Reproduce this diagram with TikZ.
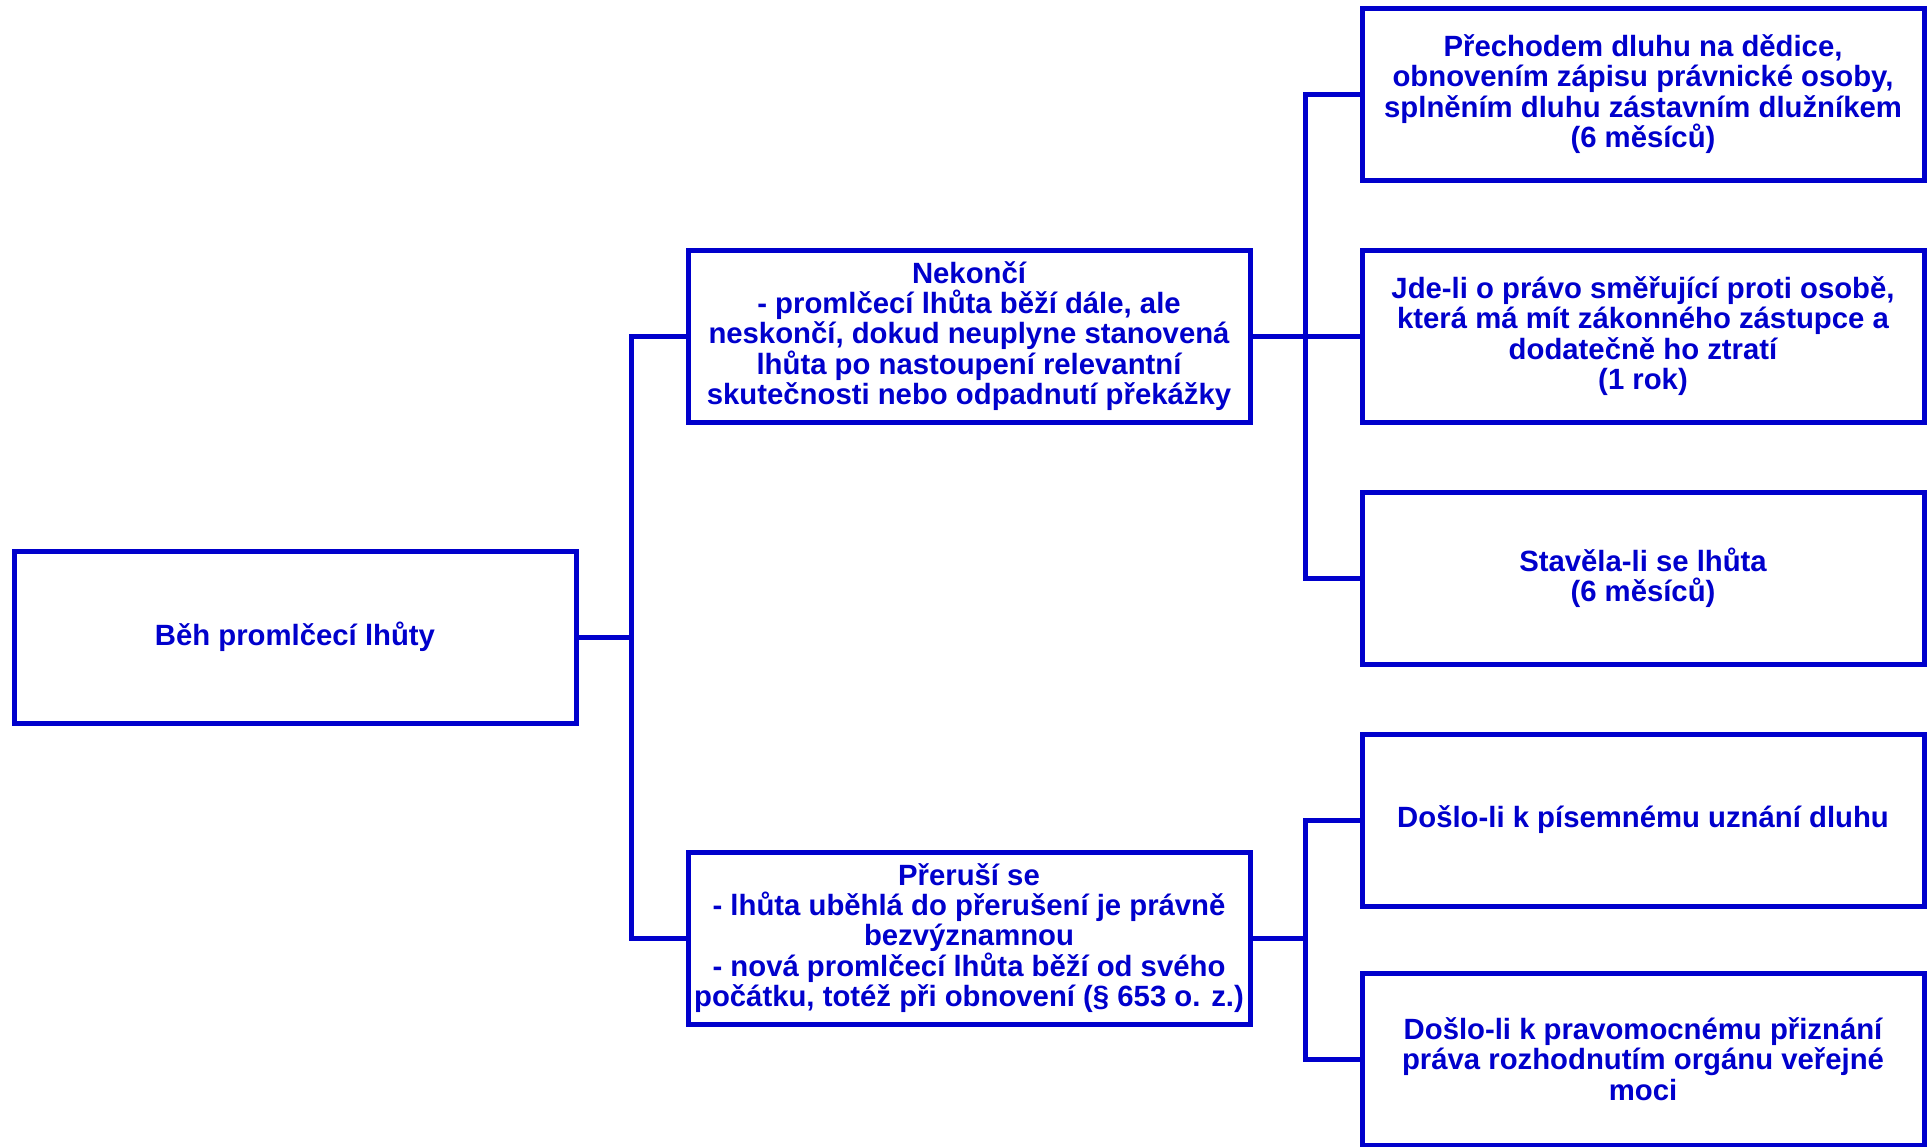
\documentclass[tikz,border=0pt]{standalone}
\usepackage{fontspec}
\setmainfont{Liberation Sans}
\definecolor{lhuta}{RGB}{0,0,204}
\tikzset{
  box/.style={draw=lhuta, line width=5pt, minimum width=562pt, minimum height=172pt,
    inner sep=0pt, align=center, text=lhuta, font=\fontsize{29.3}{30.3}\selectfont\bfseries},
  link/.style={draw=lhuta, line width=5pt}
}
\begin{document}
\begin{tikzpicture}[x=1pt,y=-1pt]
      \useasboundingbox (0,0) rectangle (1929,1146);

      \node[box] (beh) at (295,637) {Běh promlčecí lhůty};

      \node[box] (nekonci) at (969,336) {Nekončí\\ - promlčecí lhůta běží dále, ale\\ neskončí, dokud neuplyne stanovená\\ lhůta po nastoupení relevantní\\ skutečnosti nebo odpadnutí překážky};
      \node[box] (prerusi) at (969,938) {Přeruší se\\ - lhůta uběhlá do přerušení je právně\\ bezvýznamnou\\ - nová promlčecí lhůta běží od svého\\ počátku, totéž při obnovení (§ 653 o. z.)};

      \node[box] (dedice) at (1643,94) {Přechodem dluhu na dědice,\\ obnovením zápisu právnické osoby,\\ splněním dluhu zástavním dlužníkem\\ (6 měsíců)};
      \node[box] (zastupce) at (1643,336) {Jde-li o právo směřující proti osobě,\\ která má mít zákonného zástupce a\\ dodatečně ho ztratí\\ (1 rok)};
      \node[box] (stavela) at (1643,578) {Stavěla-li se lhůta\\ (6 měsíců)};
      \node[box] (uznani) at (1643,820) {Došlo-li k písemnému uznání dluhu};
      \node[box] (priznani) at (1643,1059) {Došlo-li k pravomocnému přiznání\\ práva rozhodnutím orgánu veřejné\\ moci};

      \coordinate (j1) at (631,637);
      \coordinate (j2) at (1305,336);
      \coordinate (j3) at (1305,938);

      \draw[link] (beh.east) -- (j1);
      \draw[link] (nekonci.west) -| (j1) |- (prerusi.west);

      \draw[link] (nekonci.east) -- (zastupce.west);
      \draw[link] (dedice.west) -| (j2) |- (stavela.west);

      \draw[link] (prerusi.east) -- (j3);
      \draw[link] (uznani.west) -| (j3) |- (priznani.west);
\end{tikzpicture}
\end{document}
